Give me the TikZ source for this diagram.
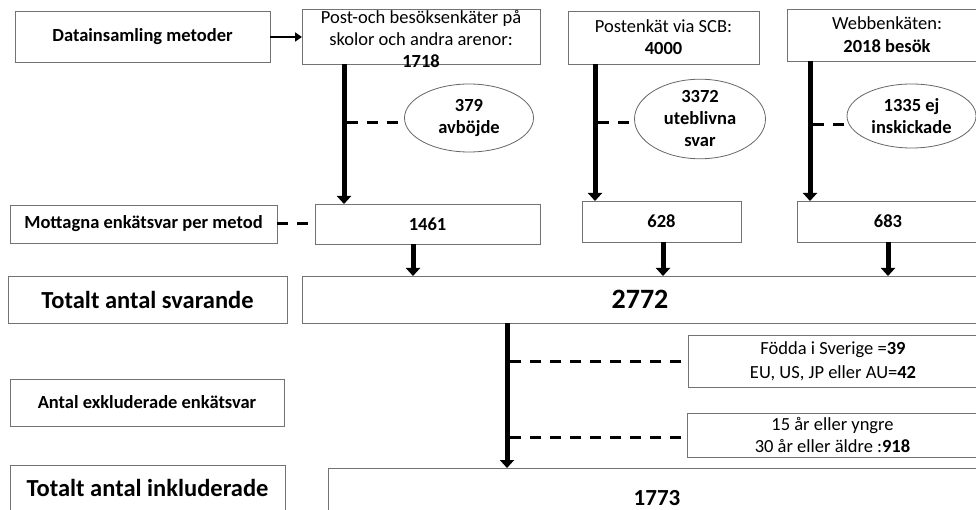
\documentclass[tikz,border=0pt]{standalone}
\usepackage{fontspec}
\setmainfont{Carlito}
\usetikzlibrary{arrows.meta,shapes.geometric}
\begin{document}
\begin{tikzpicture}[x=1pt,y=-1pt,
  box/.style={draw=black!55,line width=0.9pt,inner sep=0pt,outer sep=0pt,fill=white},
  ell/.style={ellipse,draw=black!60,line width=0.8pt,inner sep=0pt,outer sep=0pt,fill=white},
  bigarrow/.style={line width=5pt,-{Triangle[width=14pt,length=8pt]}},
  dsh/.style={line width=3pt,dash pattern=on 11pt off 9pt},
  fs/.style={font=\fontsize{18.5}{22.5}\selectfont},
  fsb/.style={font=\fontsize{18.5}{22.5}\selectfont\bfseries},
  fsl/.style={font=\fontsize{24.5}{28}\selectfont\bfseries}
]
\useasboundingbox (0,0) rectangle (976,510);
\clip (0,0) rectangle (976,510);

% top row boxes
\node[box,minimum width=255pt,minimum height=51pt,fsb] (dm) at (142.5,37) {Datainsamling metoder};
\node[box,minimum width=238pt,minimum height=55pt] (post) at (421,36.5) {};
\node[inner sep=0pt,align=center,font=\fontsize{18.5}{22}\selectfont] (posttxt) at (421,39) {Post-och besöksenkäter på\\skolor och andra arenor:\\\textbf{1718}};
\node[box,minimum width=191pt,minimum height=53pt,align=center,font=\fontsize{18.5}{22}\selectfont] (scb) at (663.5,37.5) {Postenkät via SCB:\\\textbf{4000}};
\node[box,minimum width=200pt,minimum height=52pt,align=center,font=\fontsize{18.5}{23}\selectfont] (web) at (887,35) {Webbenkäten:\\\textbf{2018 besök}};

\draw[line width=2.5pt,-{Triangle[width=9pt,length=7pt]}] (dm.east) -- (dm.east -| post.west);

% ellipses
\node[ell,minimum width=129pt,minimum height=68pt,fsb,align=center] (e1) at (469,118) {379\\avböjde};
\node[ell,minimum width=131pt,minimum height=72pt,align=center,font=\fontsize{18.5}{22}\selectfont\bfseries] (e2) at (700,119) {3372\\uteblivna\\svar};
\node[ell,minimum width=129pt,minimum height=64pt,fsb,align=center] (e3) at (911.5,116) {1335 ej\\inskickade};

% second row
\node[box,minimum width=267pt,minimum height=38pt,fsb] (mot) at (143.5,224) {Mottagna enkätsvar per metod};
\node[box,minimum width=225pt,minimum height=40pt,fsb] (b1461) at (427.5,224) {1461};
\node[box,minimum width=159pt,minimum height=41pt,fsb] (b628) at (661.5,221.5) {628};
\node[box,minimum width=182pt,minimum height=41pt,fsb] (b683) at (888,221.5) {683};

% vertical arrows top
\coordinate (c1) at (344,123);
\coordinate (c2) at (595,123);
\coordinate (c3) at (810,125);
\draw[bigarrow] (post.south -| c1) -- (b1461.north -| c1);
\draw[bigarrow] (scb.south -| c2) -- (b628.north -| c2);
\draw[bigarrow] (web.south -| c3) -- (b683.north -| c3);
\draw[dsh] ([xshift=3pt]c1) -- (c1 -| e1.west);
\draw[dsh] ([xshift=3pt]c2) -- (c2 -| e2.west);
\draw[dsh] ([xshift=3pt]c3) -- (c3 -| e3.west);
\draw[dsh] (mot.east) -- (mot.east -| b1461.west);

% totals
\node[box,minimum width=279pt,minimum height=47pt,fsl] (totl) at (147.5,299.5) {Totalt antal svarande};
\node[box,minimum width=676pt,minimum height=47pt,font=\fontsize{28}{32}\selectfont\bfseries] (tot) at (640,299.5) {2772};

\coordinate (d1) at (413,0);
\coordinate (d2) at (663,0);
\coordinate (d3) at (888,0);
\draw[bigarrow] (b1461.south -| d1) -- (tot.north -| d1);
\draw[bigarrow] (b628.south -| d2) -- (tot.north -| d2);
\draw[bigarrow] (b683.south -| d3) -- (tot.north -| d3);

% exclusions
\node[box,minimum width=274pt,minimum height=47pt,fsb] (exkl) at (147,402.5) {Antal exkluderade enkätsvar};
\node[box,minimum width=290pt,minimum height=52pt,align=center,font=\fontsize{18.5}{24}\selectfont] (fodda) at (833,361) {Födda i Sverige =\textbf{39}\\EU, US, JP eller AU=\textbf{42}};
\node[box,minimum width=291pt,minimum height=44pt,align=center,font=\fontsize{18.5}{22}\selectfont] (ar) at (832.5,435) {15 år eller yngre\\30 år eller äldre :\textbf{918}};

\node[box,minimum width=275pt,minimum height=46pt,fsl] (inkl) at (147.5,488) {Totalt antal inkluderade};
\node[box,minimum width=658pt,minimum height=60pt,font=\fontsize{23}{27}\selectfont\bfseries] (b1773) at (657,498) {1773};

\coordinate (m) at (507,0);
\draw[bigarrow] (tot.south -| m) -- (b1773.north -| m);
\coordinate (g1) at (510,361);
\coordinate (g2) at (510,437);
\draw[dsh] (g1) -- (g1 -| fodda.west);
\draw[dsh] (g2) -- (g2 -| ar.west);
\end{tikzpicture}
\end{document}
